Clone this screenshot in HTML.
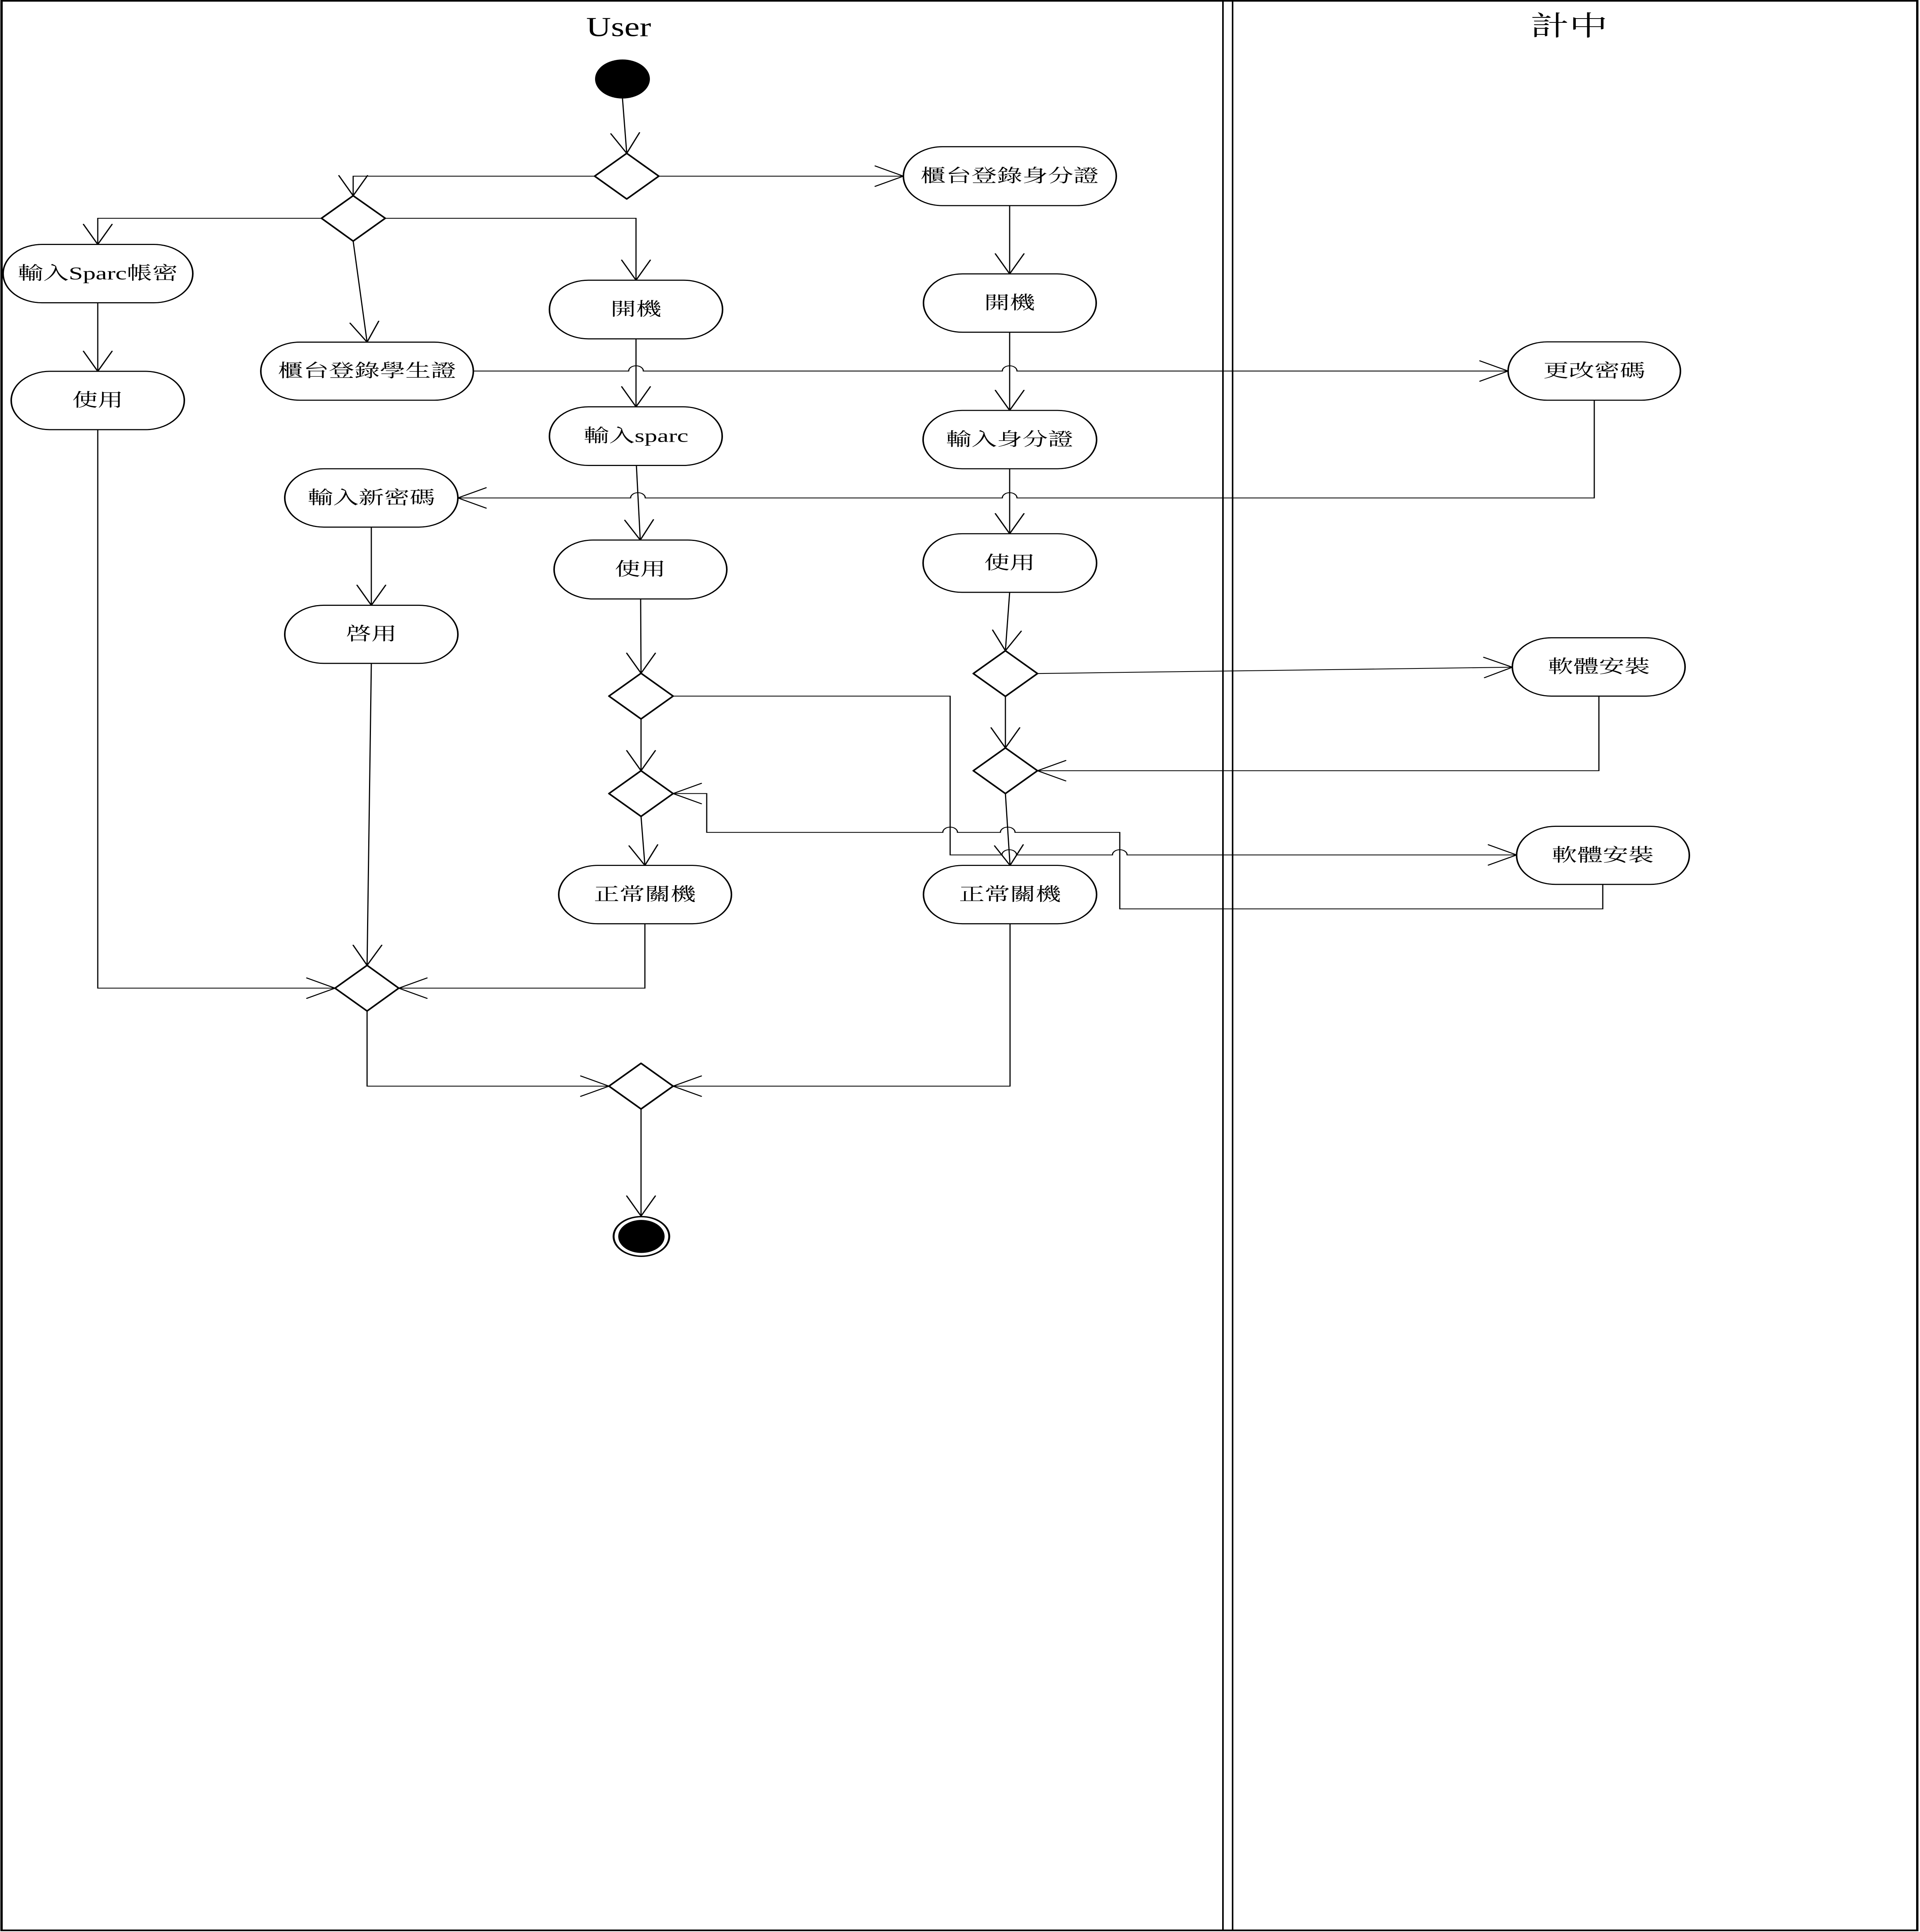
<!DOCTYPE html>
<html>
<head>
<meta charset="utf-8">
<style>
html,body{margin:0;padding:0;background:#fff;overflow:hidden;}
svg{display:block;position:absolute;left:0;top:0;width:100vw;height:min(100vh,7019px);}
text{font-family:"Liberation Serif","Noto Serif CJK SC","Noto Serif CJK TC",serif;fill:#000;}
.n{fill:#fff;stroke:#000;stroke-width:4;}
.d{fill:#fff;stroke:#000;stroke-width:5;stroke-linejoin:round;}
.c{fill:none;stroke:#000;stroke-width:3;}
.a{fill:none;stroke:#000;stroke-width:3.5;stroke-linecap:round;stroke-linejoin:miter;}
.t{font-size:66px;text-anchor:middle;dominant-baseline:central;}
</style>
</head>
<body>
<svg viewBox="0 0 4969 7019" preserveAspectRatio="none" xmlns="http://www.w3.org/2000/svg">
<rect x="0" y="0" width="4969" height="7019" fill="#fff"/>
<!-- frame -->
<rect x="4" y="3" width="4958" height="7010" fill="none" stroke="#000" stroke-width="6"/>
<line x1="3165" y1="3" x2="3165" y2="7013" stroke="#000" stroke-width="4"/>
<line x1="3190" y1="3" x2="3190" y2="7013" stroke="#000" stroke-width="4"/>
<text x="1601" y="131" font-size="100" text-anchor="middle" textLength="168" lengthAdjust="spacingAndGlyphs">User</text>
<text x="4061" y="95" font-size="100" text-anchor="middle" dominant-baseline="central">計中</text>

<!-- connectors -->
<path class="c" d="M1611,358 L1622,557"/>
<path class="c" d="M1705,640 L2338,640"/>
<path class="c" d="M1539,640 L914,640 L914,711"/>
<path class="c" d="M832,793 L253,793 L253,888"/>
<path class="c" d="M997,793 L1646,793 L1646,1018"/>
<path class="c" d="M914,876 L950,1243"/>
<path class="c" d="M2613,747 L2613,995"/>
<path class="c" d="M253,1100 L253,1349"/>
<path class="c" d="M1225,1348 L1627,1348 A19,19 0 0 1 1665,1348 L2594,1348 A19,19 0 0 1 2632,1348 L3903,1348"/>
<path class="c" d="M1646,1231 L1646,1478"/>
<path class="c" d="M2613,1207 L2613,1491"/>
<path class="c" d="M4126,1454 L4126,1809 L2632,1809 A19,19 0 0 0 2594,1809 L1670,1809 A19,19 0 0 0 1632,1809 L1185,1809"/>
<path class="c" d="M1647,1691 L1657,1962"/>
<path class="c" d="M2613,1703 L2613,1939"/>
<path class="c" d="M961,1915 L961,2199"/>
<path class="c" d="M1658,2176 L1659,2446"/>
<path class="c" d="M2613,2152 L2602,2364"/>
<path class="c" d="M2685,2447 L3914,2424"/>
<path class="c" d="M2602,2530 L2602,2717"/>
<path class="c" d="M4138,2529 L4138,2800 L2685,2800"/>
<path class="c" d="M1659,2612 L1659,2800"/>
<path class="c" d="M1742,2529 L2459,2529 L2459,3106 L2593,3106 A19,19 0 0 1 2631,3106 L2879,3106 A19,19 0 0 1 2917,3106 L3925,3106"/>
<path class="c" d="M2602,2883 L2614,3144"/>
<path class="c" d="M4148,3213 L4148,3302 L2898,3302 L2898,3024 L2627,3024 A19,19 0 0 0 2589,3024 L2478,3024 A19,19 0 0 0 2440,3024 L1829,3024 L1829,2883 L1742,2883"/>
<path class="c" d="M1659,2966 L1669,3144"/>
<path class="c" d="M961,2410 L950,3507"/>
<path class="c" d="M253,1561 L253,3590 L867,3590"/>
<path class="c" d="M1669,3356 L1669,3590 L1032,3590"/>
<path class="c" d="M950,3673 L950,3946 L1576,3946"/>
<path class="c" d="M2614,3356 L2614,3946 L1742,3946"/>
<path class="c" d="M1659,4029 L1659,4418"/>

<!-- arrowheads -->
<polyline class="a" points="1581,486 1622,557 1655,482"/>
<polyline class="a" points="2265,603 2338,640 2265,677"/>
<polyline class="a" points="877,638 914,711 951,638"/>
<polyline class="a" points="216,815 253,888 290,815"/>
<polyline class="a" points="1609,945 1646,1018 1683,945"/>
<polyline class="a" points="906,1174 950,1243 980,1167"/>
<polyline class="a" points="2576,922 2613,995 2650,922"/>
<polyline class="a" points="216,1276 253,1349 290,1276"/>
<polyline class="a" points="3830,1311 3903,1348 3830,1385"/>
<polyline class="a" points="1609,1405 1646,1478 1683,1405"/>
<polyline class="a" points="2576,1418 2613,1491 2650,1418"/>
<polyline class="a" points="1258,1772 1185,1809 1258,1846"/>
<polyline class="a" points="1617,1890 1657,1962 1691,1888"/>
<polyline class="a" points="2576,1866 2613,1939 2650,1866"/>
<polyline class="a" points="924,2126 961,2199 998,2126"/>
<polyline class="a" points="1622,2373 1659,2446 1696,2373"/>
<polyline class="a" points="2569,2289 2602,2364 2643,2293"/>
<polyline class="a" points="3842,2462 3914,2424 3840,2388"/>
<polyline class="a" points="2565,2644 2602,2717 2639,2644"/>
<polyline class="a" points="2758,2763 2685,2800 2758,2837"/>
<polyline class="a" points="1622,2727 1659,2800 1696,2727"/>
<polyline class="a" points="3852,3069 3925,3106 3852,3143"/>
<polyline class="a" points="2574,3073 2614,3144 2648,3069"/>
<polyline class="a" points="1815,2846 1742,2883 1815,2920"/>
<polyline class="a" points="1628,3073 1669,3144 1702,3069"/>
<polyline class="a" points="914,3434 950,3507 988,3434"/>
<polyline class="a" points="794,3553 867,3590 794,3627"/>
<polyline class="a" points="1105,3553 1032,3590 1105,3627"/>
<polyline class="a" points="1503,3909 1576,3946 1503,3983"/>
<polyline class="a" points="1815,3909 1742,3946 1815,3983"/>
<polyline class="a" points="1622,4345 1659,4418 1696,4345"/>

<!-- start / end -->
<circle cx="1611" cy="287" r="71" fill="#000"/>
<circle cx="1660" cy="4492" r="72" fill="#fff" stroke="#000" stroke-width="5"/>
<circle cx="1660" cy="4492" r="60" fill="#000"/>

<!-- diamonds -->
<polygon class="d" points="1622,557 1705,640 1622,723 1539,640"/>
<polygon class="d" points="914,711 997,793 914,876 832,793"/>
<polygon class="d" points="1659,2446 1742,2529 1659,2612 1576,2529"/>
<polygon class="d" points="1659,2800 1742,2883 1659,2966 1576,2883"/>
<polygon class="d" points="2602,2364 2685,2447 2602,2530 2519,2447"/>
<polygon class="d" points="2602,2717 2685,2800 2602,2883 2519,2800"/>
<polygon class="d" points="950,3507 1032,3590 950,3673 867,3590"/>
<polygon class="d" points="1659,3863 1742,3946 1659,4029 1576,3946"/>

<!-- nodes -->
<rect class="n" x="2338" y="533" width="551" height="214" rx="101" ry="107"/>
<text class="t" x="2613" y="640">櫃台登錄身分證</text>

<rect class="n" x="8" y="888" width="491" height="212" rx="101" ry="106"/>
<text class="t" x="253" y="994">輸入Sparc帳密</text>

<rect class="n" x="1422" y="1018" width="448" height="213" rx="101" ry="106"/>
<text class="t" x="1646" y="1124">開機</text>

<rect class="n" x="675" y="1243" width="550" height="211" rx="101" ry="105"/>
<text class="t" x="950" y="1348">櫃台登錄學生證</text>

<rect class="n" x="29" y="1349" width="448" height="212" rx="101" ry="106"/>
<text class="t" x="253" y="1455">使用</text>

<rect class="n" x="2390" y="995" width="447" height="212" rx="101" ry="106"/>
<text class="t" x="2613" y="1101">開機</text>

<rect class="n" x="3903" y="1242" width="446" height="212" rx="101" ry="106"/>
<text class="t" x="4126" y="1348">更改密碼</text>

<rect class="n" x="1422" y="1478" width="447" height="213" rx="101" ry="106"/>
<text class="t" x="1646" y="1584">輸入sparc</text>

<rect class="n" x="2389" y="1491" width="449" height="212" rx="101" ry="106"/>
<text class="t" x="2613" y="1597">輸入身分證</text>

<rect class="n" x="737" y="1703" width="448" height="212" rx="101" ry="106"/>
<text class="t" x="961" y="1809">輸入新密碼</text>

<rect class="n" x="1434" y="1962" width="447" height="214" rx="101" ry="107"/>
<text class="t" x="1657" y="2069">使用</text>

<rect class="n" x="2389" y="1939" width="449" height="213" rx="101" ry="106"/>
<text class="t" x="2613" y="2046">使用</text>

<rect class="n" x="737" y="2199" width="448" height="211" rx="101" ry="105"/>
<text class="t" x="961" y="2304">啓用</text>

<rect class="n" x="3914" y="2317" width="447" height="212" rx="101" ry="106"/>
<text class="t" x="4138" y="2423">軟體安裝</text>

<rect class="n" x="3925" y="3002" width="447" height="211" rx="101" ry="105"/>
<text class="t" x="4148" y="3108">軟體安裝</text>

<rect class="n" x="1446" y="3144" width="447" height="212" rx="101" ry="106"/>
<text class="t" x="1669" y="3250">正常關機</text>

<rect class="n" x="2390" y="3144" width="448" height="212" rx="101" ry="106"/>
<text class="t" x="2614" y="3250">正常關機</text>
</svg>
</body>
</html>
